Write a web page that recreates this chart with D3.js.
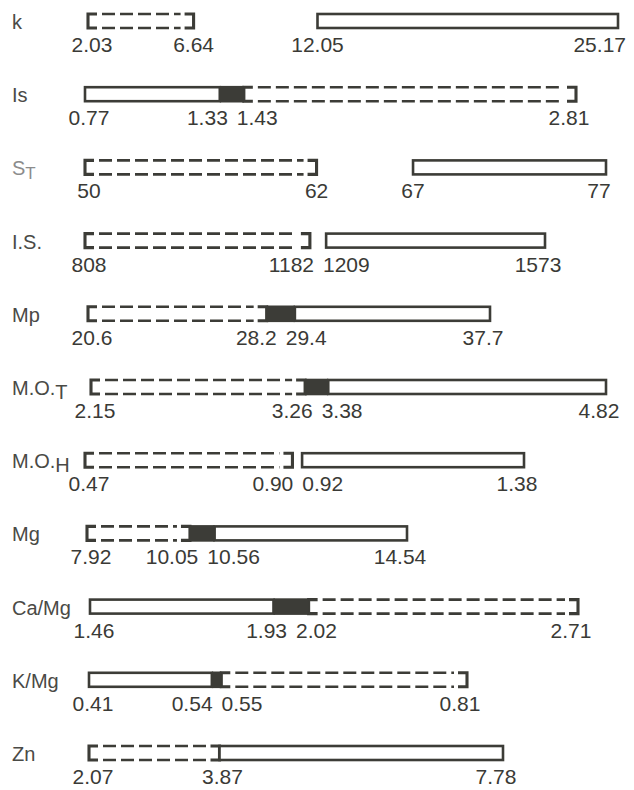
<!DOCTYPE html>
<html><head><meta charset="utf-8">
<script src="https://cdn.jsdelivr.net/npm/d3@7"></script>
<style>body{margin:0;background:#fff}</style>
</head><body><svg id="c" width="634" height="790"></svg>
<script>
// ---- data ----
const rowNames   = ["k","Is","ST","I.S.","Mp","M.O.T","M.O.H","Mg","Ca/Mg","K/Mg","Zn"];
const labelMain  = ["k","Is","S","I.S.","Mp","M.O.","M.O.","Mg","Ca/Mg","K/Mg","Zn"];
const labelSub   = ["","","T","","","T","H","","","",""];
const lowValues  = [2.03, 0.77, 50, 808, 20.6, 2.15, 0.47, 7.92, 1.46, 0.41, 2.07];
const lowerMid   = [6.64, 1.33, 62, 1182, 28.2, 3.26, 0.90, 10.05, 1.93, 0.54, 3.87];
const upperMid   = [12.05, 1.43, 67, 1209, 29.4, 3.38, 0.92, 10.56, 2.02, 0.55, 3.87];
const highValues = [25.17, 2.81, 77, 1573, 37.7, 4.82, 1.38, 14.54, 2.71, 0.81, 7.78];
const leftStyle  = ["dashed","solid","dashed","dashed","dashed","dashed","dashed","dashed","solid","solid","dashed"];
const middleFilled = [false,true,false,false,true,true,false,true,true,true,false];
const tickLabels = [
  ["2.03","6.64","12.05","25.17"],
  ["0.77","1.33","1.43","2.81"],
  ["50","62","67","77"],
  ["808","1182","1209","1573"],
  ["20.6","28.2","29.4","37.7"],
  ["2.15","3.26","3.38","4.82"],
  ["0.47","0.90","0.92","1.38"],
  ["7.92","10.05","10.56","14.54"],
  ["1.46","1.93","2.02","2.71"],
  ["0.41","0.54","0.55","0.81"],
  ["2.07","3.87",null,"7.78"]
];
// ---- layout (pixel span of each row's own scale) ----
const rowSpan = [[88,618],[85,576],[85,606],[85,545],[88,490],[91,606],[85,524],[87,407],[90,578],[89,467],[89,503]];

const svg = d3.select("#c");
const ink = "#3c3c37";
const barH = 14, sw = 2.6;
const y = d3.scalePoint().domain(rowNames).range([21, 753]);

rowNames.forEach((name, i) => {
  const x = d3.scaleLinear().domain([lowValues[i], highValues[i]]).range(rowSpan[i]);
  const cy = y(name), y0 = cy - barH/2, y1 = cy + barH/2;
  const g = svg.append("g");
  const segs = [
    {a: lowValues[i], b: lowerMid[i], style: leftStyle[i]},
    {a: upperMid[i], b: highValues[i], style: leftStyle[i] === "dashed" ? "solid" : "dashed"}
  ];
  segs.forEach(s => {
    const xa = x(s.a), xb = x(s.b);
    if (s.style === "solid") {
      g.append("rect").attr("x", xa).attr("y", y0).attr("width", xb - xa).attr("height", barH)
        .attr("fill", "#fff").attr("stroke", ink).attr("stroke-width", sw);
    } else {
      g.append("path").attr("d", `M${xa+9},${y0}H${xa}V${y1}H${xa+9}`)
        .attr("fill","none").attr("stroke", ink).attr("stroke-width", sw+0.5);
      g.append("path").attr("d", `M${xb-9},${y0}H${xb}V${y1}H${xb-9}`)
        .attr("fill","none").attr("stroke", ink).attr("stroke-width", sw+0.5);
      [y0, y1].forEach(yy => {
        g.append("line").attr("x1", xa+14).attr("x2", xb-13).attr("y1", yy).attr("y2", yy)
          .attr("stroke", ink).attr("stroke-width", sw).attr("stroke-dasharray", "13 5");
      });
    }
  });
  if (middleFilled[i]) {
    const xa = x(lowerMid[i]), xb = x(upperMid[i]);
    g.append("rect").attr("x", xa).attr("y", y0 - 1.3).attr("width", xb - xa).attr("height", barH + 2.6)
      .attr("fill", ink);
  }

  // row label
  const t = svg.append("text").attr("x", 12).attr("y", cy + 8)
    .attr("font-family", "Liberation Sans, Arial, sans-serif").attr("font-size", 20)
    .attr("fill", name === "ST" ? "#8c8c8c" : "#4a4a46");
  t.append("tspan").text(labelMain[i]);
  if (labelSub[i]) t.append("tspan").attr("dy", 4).attr("font-size", name === "ST" ? 17 : 20).text(labelSub[i]);

  // value labels
  const vals = [lowValues[i], lowerMid[i], upperMid[i], highValues[i]];
  const ty = cy + 31;
  const mk = (txt, px, anchor) => svg.append("text").attr("x", px).attr("y", ty)
    .attr("text-anchor", anchor).attr("font-family", "Liberation Sans, Arial, sans-serif")
    .attr("font-size", 21).attr("fill", "#3a3a36").text(txt);
  const L = tickLabels[i];
  mk(L[0], x(vals[0]) + 4, "middle");
  const last = mk(L[3], x(vals[3]) - 7, "middle");
  const wl = last.node().getComputedTextLength();
  if (x(vals[3]) - 7 + wl/2 > 626) last.attr("text-anchor", "end").attr("x", 626);
  if (L[2] === null) {
    mk(L[1], x(vals[1]) + 3, "middle");
  } else {
    const a = mk(L[1], x(vals[1]), "middle");
    const b = mk(L[2], x(vals[2]), "middle");
    const wa = a.node().getComputedTextLength(), wb = b.node().getComputedTextLength();
    if (x(vals[1]) + wa/2 + 8 > x(vals[2]) - wb/2) {
      const mid = (x(vals[1]) + x(vals[2])) / 2;
      a.attr("text-anchor", "end").attr("x", mid - 4);
      b.attr("text-anchor", "start").attr("x", mid + 5);
    }
  }
});
</script></body></html>
